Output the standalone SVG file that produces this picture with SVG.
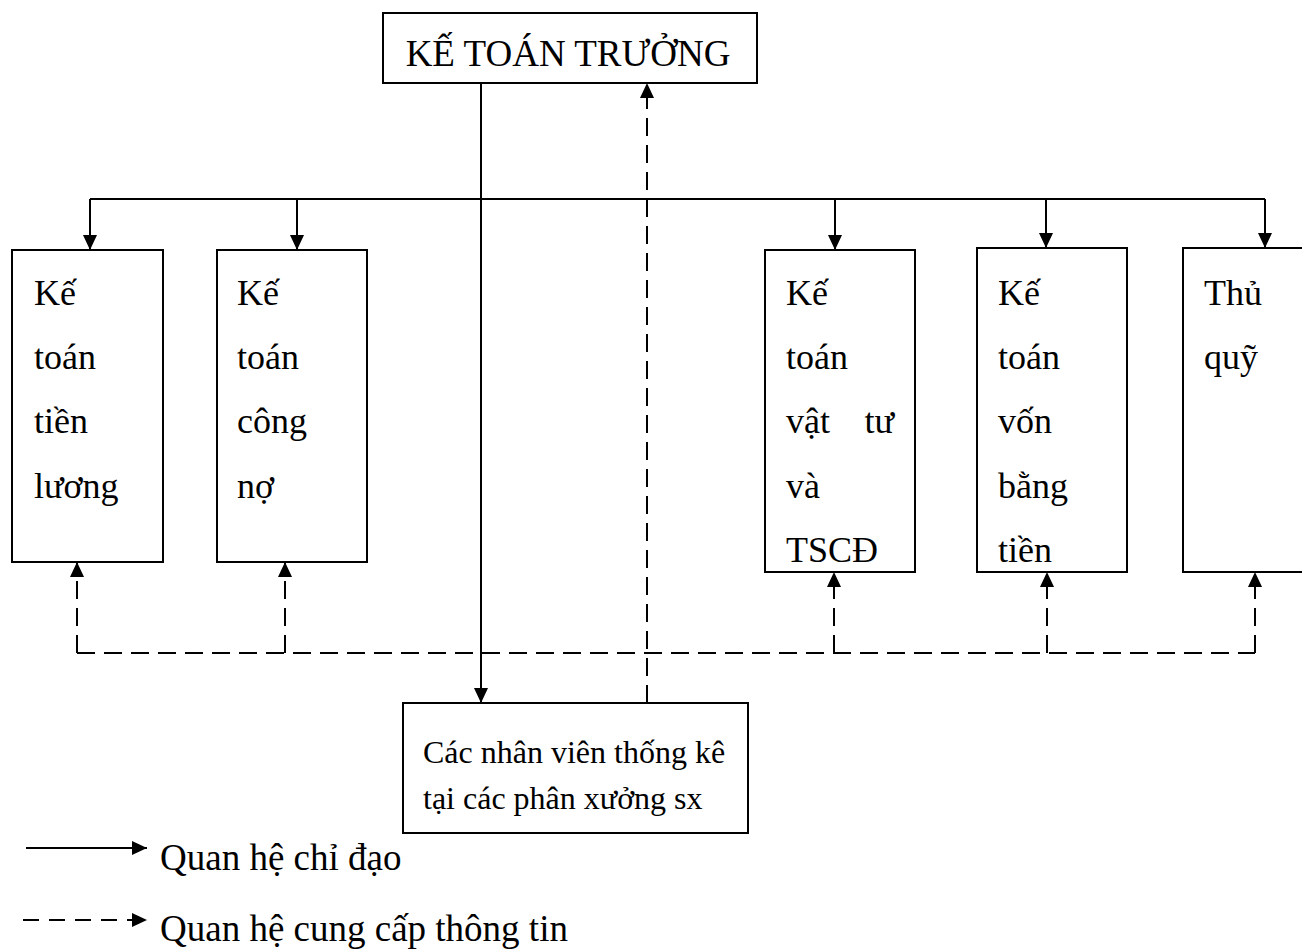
<svg xmlns="http://www.w3.org/2000/svg" width="1302" height="950" viewBox="0 0 1302 950">
  <style>
    .box { fill: #fff; stroke: #000; stroke-width: 2; }
    .t { font-family: "Liberation Serif", "Times New Roman", serif; fill: #000; }
    .title { font-size: 37px; }
    .lbl { font-size: 36px; }
    .small { font-size: 32px; }
    .leg { font-size: 37px; }
    .solid { fill: none; stroke: #000; stroke-width: 2; }
    .dash { fill: none; stroke: #000; stroke-width: 2; stroke-dasharray: 18 9; }
  </style>
  <defs>
    <marker id="arrow" viewBox="0 0 15 14" refX="15" refY="7" markerWidth="15" markerHeight="14" markerUnits="userSpaceOnUse" orient="auto">
      <path d="M0,0 L15,7 L0,14 z" fill="#000"/>
    </marker>
  </defs>

  <rect width="1302" height="950" fill="#fff"/>

  <!-- connectors -->
  <g id="connectors">
    <!-- direction lines -->
    <path class="solid" d="M90,199 H1265"/>
    <path class="solid" d="M90,199 V250" marker-end="url(#arrow)"/>
    <path class="solid" d="M297,199 V250" marker-end="url(#arrow)"/>
    <path class="solid" d="M835,199 V250" marker-end="url(#arrow)"/>
    <path class="solid" d="M1046,199 V248" marker-end="url(#arrow)"/>
    <path class="solid" d="M1265,199 V248" marker-end="url(#arrow)"/>
    <path class="solid" d="M481,83 V703" marker-end="url(#arrow)"/>
    <!-- information lines -->
    <path class="dash" d="M647,703 V83" marker-end="url(#arrow)"/>
    <path class="dash" d="M77,653 H1255"/>
    <path class="dash" d="M77,653 V562" marker-end="url(#arrow)"/>
    <path class="dash" d="M285,653 V562" marker-end="url(#arrow)"/>
    <path class="dash" d="M834,653 V572" marker-end="url(#arrow)"/>
    <path class="dash" d="M1047,653 V572" marker-end="url(#arrow)"/>
    <path class="dash" d="M1255,653 V572" marker-end="url(#arrow)"/>
  </g>

  <g id="ke-toan-truong">
    <rect class="box" x="383" y="13" width="374" height="70"/>
    <text class="t title" x="568" y="66" text-anchor="middle">KẾ TOÁN TRƯỞNG</text>
  </g>

  <g id="ke-toan-tien-luong">
    <rect class="box" x="12" y="250" width="151" height="312"/>
    <text class="t lbl" x="34" y="305">Kế</text>
    <text class="t lbl" x="34" y="369">toán</text>
    <text class="t lbl" x="34" y="433">tiền</text>
    <text class="t lbl" x="34" y="498">lương</text>
  </g>

  <g id="ke-toan-cong-no">
    <rect class="box" x="217" y="250" width="150" height="312"/>
    <text class="t lbl" x="237" y="305">Kế</text>
    <text class="t lbl" x="237" y="369">toán</text>
    <text class="t lbl" x="237" y="433">công</text>
    <text class="t lbl" x="237" y="498">nợ</text>
  </g>

  <g id="ke-toan-vat-tu">
    <rect class="box" x="765" y="250" width="150" height="322"/>
    <text class="t lbl" x="786" y="305">Kế</text>
    <text class="t lbl" x="786" y="369">toán</text>
    <text class="t lbl" x="786" y="433">vật</text>
    <text class="t lbl" x="894" y="433" text-anchor="end">tư</text>
    <text class="t lbl" x="786" y="498">và</text>
    <text class="t lbl" x="786" y="562">TSCĐ</text>
  </g>

  <g id="ke-toan-von-bang-tien">
    <rect class="box" x="977" y="248" width="150" height="324"/>
    <text class="t lbl" x="998" y="305">Kế</text>
    <text class="t lbl" x="998" y="369">toán</text>
    <text class="t lbl" x="998" y="433">vốn</text>
    <text class="t lbl" x="998" y="498">bằng</text>
    <text class="t lbl" x="998" y="562">tiền</text>
  </g>

  <g id="thu-quy">
    <rect class="box" x="1183" y="248" width="200" height="324"/>
    <text class="t lbl" x="1204" y="305">Thủ</text>
    <text class="t lbl" x="1204" y="369">quỹ</text>
  </g>

  <g id="nhan-vien-thong-ke">
    <rect class="box" x="403" y="703" width="345" height="130"/>
    <text class="t small" x="423" y="763">Các nhân viên thống kê</text>
    <text class="t small" x="423" y="809">tại các phân xưởng sx</text>
  </g>

  <g id="legend">
    <path class="solid" d="M26,848 H147" marker-end="url(#arrow)"/>
    <text class="t leg" x="160" y="870">Quan hệ chỉ đạo</text>
    <path class="solid" d="M23,920 H147" stroke-dasharray="16 10" marker-end="url(#arrow)"/>
    <text class="t leg" x="160" y="941">Quan hệ cung cấp thông tin</text>
  </g>
</svg>
